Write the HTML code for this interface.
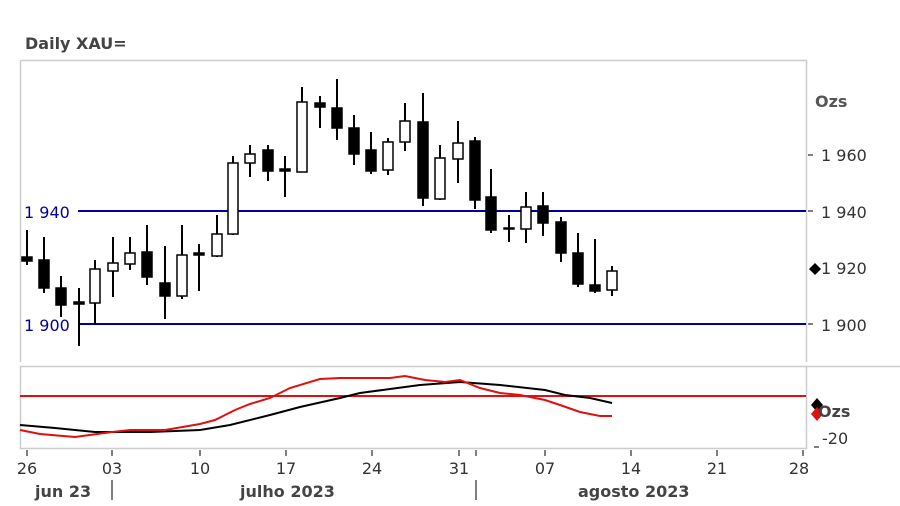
<!DOCTYPE html>
<html><head><meta charset="utf-8"><style>
body{margin:0;background:#fff}
svg{display:block;font-family:"DejaVu Sans","Liberation Sans",sans-serif}
</style></head><body>
<svg width="900" height="506" viewBox="0 0 900 506" xmlns="http://www.w3.org/2000/svg">
<rect width="900" height="506" fill="#fff"/>
<text x="25" y="49" font-size="16" font-weight="bold" fill="#444">Daily XAU=</text>
<path d="M20.5 60.5H806.5V362M20.5 60.5V362" fill="none" stroke="#ccc" stroke-width="1.5"/>
<path d="M20 366.5H900M20.5 366V448.5H806.5V366" fill="none" stroke="#ccc" stroke-width="1.5"/>
<line x1="78" y1="211" x2="806" y2="211" stroke="#00009a" stroke-width="2"/>
<line x1="78" y1="324" x2="806" y2="324" stroke="#00009a" stroke-width="2"/>
<text x="24" y="218" font-size="16" fill="#00009a">1 940</text>
<text x="24" y="331" font-size="16" fill="#00009a">1 900</text>
<g font-size="16" fill="#333">
<text x="815" y="107" font-weight="bold" fill="#555">Ozs</text>
<text x="821" y="161">1 960</text>
<text x="821" y="218">1 940</text>
<text x="821" y="274">1 920</text>
<text x="821" y="331">1 900</text>
</g>
<g stroke="#555" stroke-width="1.5">
<line x1="808" y1="155" x2="813" y2="155"/><line x1="808" y1="211" x2="813" y2="211"/>
<line x1="808" y1="324" x2="813" y2="324"/>
</g>
<path d="M809 269l6-6 6 6-6 6z" fill="#000"/>
<g stroke="#000" stroke-width="2">
<line x1="27" y1="230" x2="27" y2="265"/><line x1="44" y1="237" x2="44" y2="293"/>
<line x1="61" y1="276" x2="61" y2="317"/><line x1="79" y1="288" x2="79" y2="346"/>
<line x1="95" y1="260" x2="95" y2="325"/><line x1="113" y1="237" x2="113" y2="297"/>
<line x1="130" y1="237" x2="130" y2="270"/><line x1="147" y1="225" x2="147" y2="285"/>
<line x1="165" y1="246" x2="165" y2="319"/><line x1="182" y1="225" x2="182" y2="299"/>
<line x1="199" y1="244" x2="199" y2="291"/><line x1="217" y1="215" x2="217" y2="257"/>
<line x1="233" y1="156" x2="233" y2="235"/><line x1="250" y1="145" x2="250" y2="177"/>
<line x1="268" y1="145" x2="268" y2="181"/><line x1="285" y1="156" x2="285" y2="197"/>
<line x1="302" y1="87" x2="302" y2="172"/><line x1="320" y1="96" x2="320" y2="128"/>
<line x1="337" y1="79" x2="337" y2="140"/><line x1="354" y1="115" x2="354" y2="165"/>
<line x1="371" y1="132" x2="371" y2="174"/><line x1="388" y1="138" x2="388" y2="175"/>
<line x1="405" y1="103" x2="405" y2="151"/><line x1="423" y1="93" x2="423" y2="206"/>
<line x1="440" y1="145" x2="440" y2="200"/><line x1="458" y1="121" x2="458" y2="183"/>
<line x1="475" y1="137" x2="475" y2="209"/><line x1="491" y1="169" x2="491" y2="233"/>
<line x1="509" y1="215" x2="509" y2="242"/><line x1="526" y1="192" x2="526" y2="243"/>
<line x1="543" y1="192" x2="543" y2="236"/><line x1="561" y1="217" x2="561" y2="262"/>
<line x1="578" y1="233" x2="578" y2="287"/><line x1="595" y1="239" x2="595" y2="293"/>
<line x1="612" y1="266" x2="612" y2="296"/>
</g>
<g stroke="#000" stroke-width="1.5">
<rect x="22" y="257" width="10" height="4" fill="#000"/>
<rect x="39" y="260" width="10" height="28" fill="#000"/>
<rect x="56" y="288" width="10" height="17" fill="#000"/>
<rect x="74" y="302" width="10" height="2" fill="#000"/>
<rect x="90" y="269" width="10" height="34" fill="#fff"/>
<rect x="108" y="263" width="10" height="8" fill="#fff"/>
<rect x="125" y="253" width="10" height="11" fill="#fff"/>
<rect x="142" y="252" width="10" height="25" fill="#000"/>
<rect x="160" y="283" width="10" height="13" fill="#000"/>
<rect x="177" y="255" width="10" height="41" fill="#fff"/>
<rect x="194" y="253" width="10" height="2" fill="#000"/>
<rect x="212" y="234" width="10" height="22" fill="#fff"/>
<rect x="228" y="163" width="10" height="71" fill="#fff"/>
<rect x="245" y="154" width="10" height="9" fill="#fff"/>
<rect x="263" y="150" width="10" height="21" fill="#000"/>
<rect x="280" y="169" width="10" height="2" fill="#000"/>
<rect x="297" y="102" width="10" height="70" fill="#fff"/>
<rect x="315" y="103" width="10" height="4" fill="#000"/>
<rect x="332" y="108" width="10" height="20" fill="#000"/>
<rect x="349" y="128" width="10" height="26" fill="#000"/>
<rect x="366" y="150" width="10" height="21" fill="#000"/>
<rect x="383" y="142" width="10" height="28" fill="#fff"/>
<rect x="400" y="121" width="10" height="21" fill="#fff"/>
<rect x="418" y="122" width="10" height="76" fill="#000"/>
<rect x="435" y="158" width="10" height="41" fill="#fff"/>
<rect x="453" y="143" width="10" height="16" fill="#fff"/>
<rect x="470" y="141" width="10" height="59" fill="#000"/>
<rect x="486" y="197" width="10" height="33" fill="#000"/>
<rect x="504" y="228" width="10" height="1" fill="#000"/>
<rect x="521" y="207" width="10" height="22" fill="#fff"/>
<rect x="538" y="206" width="10" height="17" fill="#000"/>
<rect x="556" y="222" width="10" height="31" fill="#000"/>
<rect x="573" y="253" width="10" height="31" fill="#000"/>
<rect x="590" y="285" width="10" height="6" fill="#000"/>
<rect x="607" y="271" width="10" height="19" fill="#fff"/>
</g>
<line x1="20" y1="396" x2="806" y2="396" stroke="#e01010" stroke-width="2"/>
<polyline fill="none" stroke="#000" stroke-width="2" points="20,425 55,428 95,432 150,432 200,430 230,425 270,415 300,407 340,398 360,393 390,389 420,385 460,382 500,385 545,390 565,395 590,398 612,403"/>
<polyline fill="none" stroke="#e01010" stroke-width="2" points="20,430 40,434 75,437 112,432 130,430 165,430 200,424 215,420 235,410 250,404 270,398 290,388 320,379 340,378 390,378 405,376 425,380 445,382 460,380 480,388 500,393 520,395 545,400 560,405 580,412 600,416 612,416"/>
<path d="M811 405l6-7 6 7-6 7z" fill="#000"/>
<path d="M811 414l6-7 6 7-6 7z" fill="#e01010"/>
<text x="818" y="417" font-size="16" font-weight="bold" fill="#444">Ozs</text>
<text x="822" y="444" font-size="16" fill="#333">-20</text>
<line x1="814" y1="447" x2="819" y2="447" stroke="#555" stroke-width="1.5"/>
<g stroke="#555" stroke-width="1.5">
<line x1="27" y1="450" x2="27" y2="456"/><line x1="112" y1="450" x2="112" y2="456"/>
<line x1="200" y1="450" x2="200" y2="456"/><line x1="286" y1="450" x2="286" y2="456"/>
<line x1="372" y1="450" x2="372" y2="456"/><line x1="459" y1="450" x2="459" y2="456"/>
<line x1="476" y1="450" x2="476" y2="456"/>
<line x1="545" y1="450" x2="545" y2="456"/><line x1="631" y1="450" x2="631" y2="456"/>
<line x1="717" y1="450" x2="717" y2="456"/><line x1="803" y1="450" x2="803" y2="456"/>
<line x1="112" y1="480" x2="112" y2="500"/><line x1="476" y1="480" x2="476" y2="500"/>
</g>
<g font-size="16" fill="#333" text-anchor="middle">
<text x="27" y="474">26</text><text x="112" y="474">03</text><text x="200" y="474">10</text>
<text x="286" y="474">17</text><text x="372" y="474">24</text><text x="459" y="474">31</text>
<text x="545" y="474">07</text><text x="631" y="474">14</text><text x="717" y="474">21</text>
<text x="799" y="474">28</text>
</g>
<g font-size="16" font-weight="bold" fill="#444">
<text x="35" y="497">jun 23</text>
<text x="240" y="497">julho 2023</text>
<text x="578" y="497">agosto 2023</text>
</g>
</svg>
</body></html>
